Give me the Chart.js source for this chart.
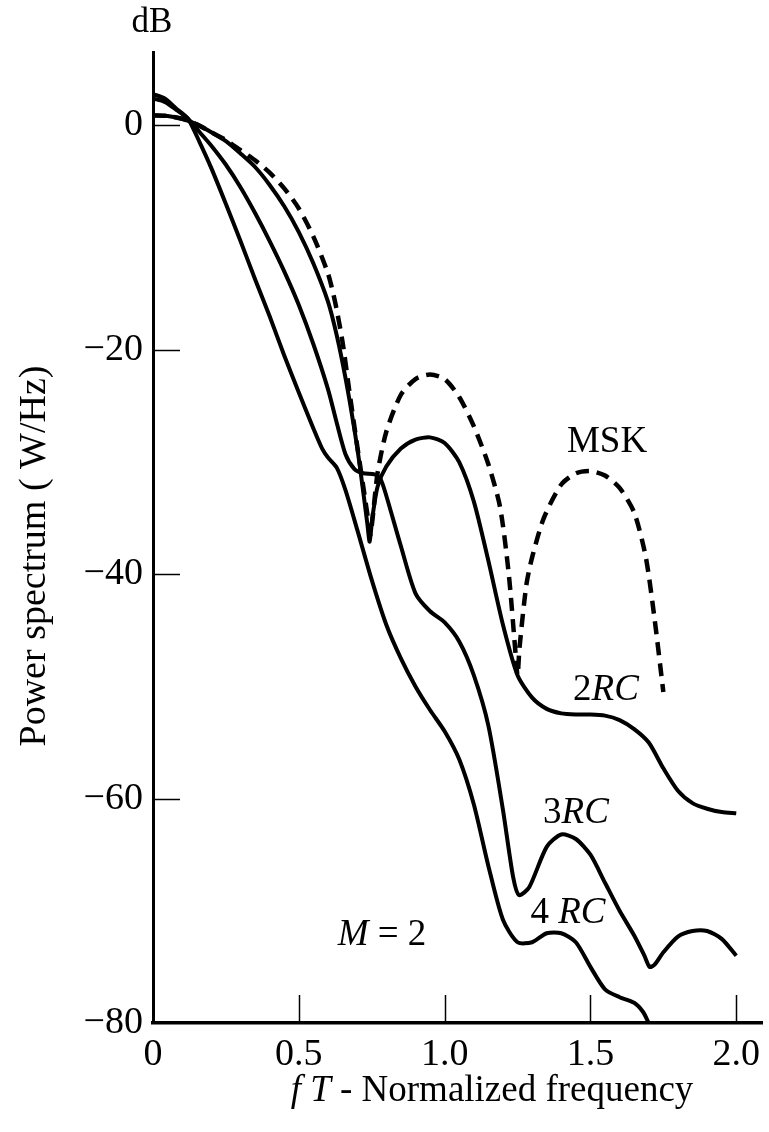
<!DOCTYPE html>
<html>
<head>
<meta charset="utf-8">
<script src="https://cdn.jsdelivr.net/npm/chart.js@4/dist/chart.umd.min.js"></script>
<style>
  html, body { margin: 0; padding: 0; background: #ffffff; }
  #wrap { width: 769px; height: 1132px; }
</style>
</head>
<body>
<div id="wrap"><canvas id="c" width="769" height="1132"></canvas></div>
<script>
// Power spectra of binary (M = 2) CPM with raised-cosine pulses vs. MSK.
// fT = normalized frequency, values in dB.

const mskFreq = [0, 0.05, 0.1, 0.15, 0.2, 0.25, 0.3, 0.35, 0.4, 0.45, 0.5, 0.55, 0.6, 0.625, 0.65, 0.675, 0.7, 0.72, 0.737, 0.745, 0.753, 0.77, 0.8, 0.85, 0.9, 0.95, 1.0, 1.05, 1.1, 1.15, 1.19, 1.22, 1.243, 1.25, 1.257, 1.28, 1.3, 1.34, 1.4, 1.45, 1.5, 1.55, 1.6, 1.65, 1.69, 1.72, 1.75];
const mskDb   = [0.9, 0.85, 0.6, 0.1, -0.6, -1.3, -2.2, -3.1, -4.2, -5.6, -7.4, -9.9, -13.2, -15.8, -19.3, -24.0, -28.5, -32.0, -35.0, -36.5, -35.0, -31.0, -27.3, -24.0, -22.6, -22.2, -22.6, -24.2, -26.8, -30.2, -34.0, -40.0, -47.0, -49.0, -46.5, -41.0, -38.5, -35.0, -32.0, -31.0, -30.8, -31.2, -32.3, -34.5, -38.5, -44.0, -50.5];

const rc2Freq = [0, 0.05, 0.1, 0.15, 0.2, 0.25, 0.3, 0.35, 0.4, 0.45, 0.5, 0.55, 0.6, 0.63, 0.66, 0.69, 0.71, 0.735, 0.743, 0.752, 0.77, 0.8, 0.85, 0.9, 0.95, 1.0, 1.05, 1.1, 1.15, 1.2, 1.25, 1.3, 1.35, 1.4, 1.45, 1.5, 1.55, 1.6, 1.65, 1.7, 1.75, 1.8, 1.85, 1.9, 1.95, 2.0];
const rc2Db   = [0.9, 0.85, 0.6, 0.1, -0.6, -1.4, -2.5, -3.7, -5.3, -7.2, -9.5, -12.3, -15.7, -18.7, -22.5, -27.0, -30.5, -35.5, -37.1, -35.0, -32.2, -30.4, -28.8, -28.0, -27.8, -28.3, -30.0, -33.5, -38.8, -44.5, -49.0, -51.0, -52.0, -52.4, -52.5, -52.5, -52.6, -53.0, -53.8, -55.0, -57.3, -59.3, -60.4, -60.9, -61.2, -61.3];

const rc3Freq = [0, 0.04, 0.08, 0.12, 0.16, 0.2, 0.25, 0.3, 0.35, 0.4, 0.45, 0.5, 0.55, 0.6, 0.63, 0.66, 0.69, 0.72, 0.76, 0.78, 0.8, 0.85, 0.9, 0.95, 1.0, 1.05, 1.1, 1.15, 1.2, 1.235, 1.255, 1.29, 1.35, 1.4, 1.45, 1.5, 1.55, 1.6, 1.65, 1.685, 1.703, 1.72, 1.75, 1.8, 1.85, 1.9, 1.95, 2.0];
const rc3Db   = [2.4, 2.1, 1.4, 0.6, -0.6, -1.8, -3.5, -5.5, -7.8, -10.3, -13.0, -16.0, -19.5, -23.5, -26.5, -29.3, -30.6, -31.0, -31.1, -31.5, -33.0, -37.5, -41.7, -43.3, -44.3, -46.0, -49.0, -53.5, -61.0, -67.0, -68.6, -67.9, -64.3, -63.2, -63.6, -65.0, -67.5, -70.0, -72.2, -74.0, -75.0, -74.8, -73.7, -72.3, -71.8, -71.8, -72.5, -74.0];

const rc4Freq = [0, 0.04, 0.08, 0.12, 0.16, 0.2, 0.25, 0.3, 0.35, 0.4, 0.45, 0.5, 0.55, 0.58, 0.6, 0.63, 0.66, 0.7, 0.75, 0.8, 0.85, 0.9, 0.95, 1.0, 1.05, 1.1, 1.15, 1.2, 1.25, 1.3, 1.35, 1.4, 1.45, 1.5, 1.55, 1.6, 1.65, 1.68, 1.7];
const rc4Db   = [2.8, 2.4, 1.5, 0.6, -1.5, -3.8, -7.0, -10.3, -13.7, -17.0, -20.5, -23.8, -27.0, -28.8, -29.6, -30.5, -32.5, -36.0, -40.5, -44.5, -47.5, -50.0, -52.1, -54.0, -56.5, -60.5, -66.0, -70.8, -72.8, -72.8, -72.0, -72.0, -72.8, -75.0, -77.0, -77.7, -78.2, -79.0, -80.0];

const xTickValues = [0, 0.5, 1.0, 1.5, 2.0];
const xTickLabels = ['0', '0.5', '1.0', '1.5', '2.0'];
const yTickValues = [-80, -60, -40, -20, 0];
const yTickLabels = ['\u221280', '\u221260', '\u221240', '\u221220', '0'];

const SERIF = '"Liberation Serif", "DejaVu Serif", serif';

function pairs(xs, ys) {
  return xs.map((x, i) => ({ x: x, y: ys[i] }));
}

function lineSet(label, xs, ys, dashed) {
  return {
    label: label,
    data: pairs(xs, ys),
    borderColor: '#000000',
    borderWidth: dashed ? 4.5 : 4,
    borderDash: dashed ? [13, 8] : [],
    borderCapStyle: 'butt',
    borderJoinStyle: 'round',
    pointRadius: 0,
    fill: false,
    tension: 0.25
  };
}

// Axis decorations: inward tick marks, unit label, axis titles and curve labels.
const annotate = {
  id: 'annotate',
  afterDraw(chart) {
    const ctx = chart.ctx;
    const xs = chart.scales.x;
    const ys = chart.scales.y;
    const area = chart.chartArea;
    ctx.save();
    ctx.strokeStyle = '#000';
    ctx.lineWidth = 1.5;
    xTickValues.forEach(v => {
      if (v === 0) return;
      const px = Math.round(xs.getPixelForValue(v)) + 0.5;
      ctx.beginPath();
      ctx.moveTo(px, area.bottom);
      ctx.lineTo(px, area.bottom - 28);
      ctx.stroke();
    });
    yTickValues.forEach(v => {
      if (v === -80) return;
      const py = Math.round(ys.getPixelForValue(v)) + 0.5;
      ctx.beginPath();
      ctx.moveTo(area.left, py);
      ctx.lineTo(area.left + 27, py);
      ctx.stroke();
    });

    ctx.fillStyle = '#000';
    ctx.textBaseline = 'alphabetic';

    function runs(parts, x, y, size, align) {
      let total = 0;
      parts.forEach(p => {
        ctx.font = (p.i ? 'italic ' : '') + size + 'px ' + SERIF;
        total += ctx.measureText(p.t).width;
      });
      let cx = align === 'center' ? x - total / 2 : x;
      ctx.textAlign = 'left';
      parts.forEach(p => {
        ctx.font = (p.i ? 'italic ' : '') + size + 'px ' + SERIF;
        ctx.fillText(p.t, cx, y);
        cx += ctx.measureText(p.t).width;
      });
    }

    runs([{ t: 'dB' }], 152, 32, 35, 'center');
    runs([{ t: 'f', i: true }, { t: ' ' }, { t: 'T', i: true }, { t: ' - Normalized frequency' }], 492, 1101, 37, 'center');

    runs([{ t: 'MSK' }], 607, 452, 37, 'center');
    runs([{ t: '2' }, { t: 'RC', i: true }], 606, 700, 37, 'center');
    runs([{ t: '3' }, { t: 'RC', i: true }], 576, 823, 37, 'center');
    runs([{ t: '4 ' }, { t: 'RC', i: true }], 568, 923, 37, 'center');
    runs([{ t: 'M', i: true }, { t: ' = 2' }], 382, 945, 37, 'center');

    // vertical axis title
    ctx.translate(32, 556);
    ctx.rotate(-Math.PI / 2);
    runs([{ t: 'Power spectrum ( W/Hz)' }], 0, 13, 38, 'center');
    ctx.restore();
  }
};

new Chart(document.getElementById('c'), {
  type: 'line',
  data: {
    datasets: [
      lineSet('4RC', rc4Freq, rc4Db, false),
      lineSet('3RC', rc3Freq, rc3Db, false),
      lineSet('2RC', rc2Freq, rc2Db, false),
      lineSet('MSK', mskFreq, mskDb, true)
    ]
  },
  options: {
    responsive: false,
    animation: false,
    devicePixelRatio: 1,
    layout: { padding: { top: 52, left: 0, right: 0, bottom: 0 } },
    plugins: { legend: { display: false }, tooltip: { enabled: false }, title: { display: false } },
    scales: {
      x: {
        type: 'linear',
        position: 'bottom',
        min: 0,
        max: 2.09,
        afterFit(s) { s.height = 109; },
        afterBuildTicks(s) { s.ticks = xTickValues.map(v => ({ value: v })); },
        grid: { display: false, drawTicks: false },
        border: { display: true, color: '#000', width: 3.5 },
        ticks: {
          padding: 9,
          color: '#000',
          font: { family: SERIF, size: 38 },
          maxRotation: 0,
          autoSkip: false,
          callback(v) { const k = xTickValues.indexOf(v); return k >= 0 ? xTickLabels[k] : ''; }
        }
      },
      y: {
        type: 'linear',
        position: 'left',
        min: -80,
        max: 6.55,
        afterFit(s) { s.width = 153; },
        afterBuildTicks(s) { s.ticks = yTickValues.map(v => ({ value: v })); },
        grid: { display: false, drawTicks: false },
        border: { display: true, color: '#000', width: 3 },
        ticks: {
          padding: 10,
          color: '#000',
          font: { family: SERIF, size: 38 },
          autoSkip: false,
          callback(v) { const k = yTickValues.indexOf(v); return k >= 0 ? yTickLabels[k] : ''; }
        }
      }
    }
  },
  plugins: [annotate]
});
</script>
</body>
</html>
